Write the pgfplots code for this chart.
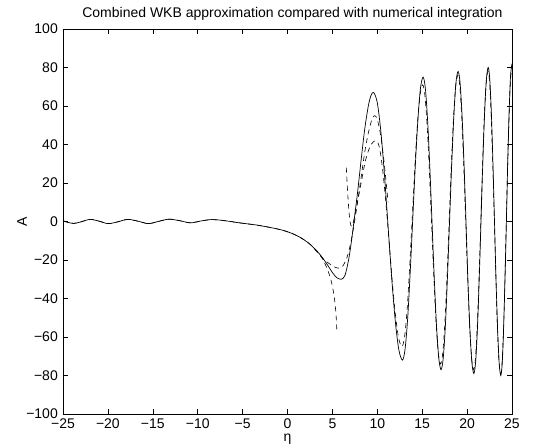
\documentclass[border=0pt]{standalone}
\usepackage{fontspec}
\setmainfont{Liberation Sans}
\usepackage{pgfplots}
\pgfplotsset{compat=1.18}
\begin{document}
\begin{tikzpicture}[x=1pt,y=1pt]
\path[use as bounding box] (-63,-32) rectangle (486,414);
\begin{axis}[
  at={(0,0)}, anchor=south west,
  scale only axis, width=449pt, height=385pt,
  xmin=-25, xmax=25, ymin=-100, ymax=100,
  xtick={-25,-20,...,25},
  xticklabels={−25,−20,−15,−10,−5,0,5,10,15,20,25},
  ytick={-100,-80,...,100},
  yticklabels={−100,−80,−60,−40,−20,0,20,40,60,80,100},
  tick align=inside, major tick length=5pt,
  every tick/.style={black, line width=0.4pt},
  axis line style={line width=0.5pt},
  tick label style={font=\fontsize{14}{16}\selectfont},
  xticklabel style={inner sep=5pt},
  yticklabel style={inner sep=5pt},
  /pgf/number format/assume math mode=true,
  title={Combined WKB approximation compared with numerical integration},
  title style={font=\fontsize{14}{16}\selectfont, at={(axis description cs:0.511,1.024)}, anchor=center, inner sep=0pt},
  xlabel={η},
  xlabel style={font=\fontsize{14}{16}\selectfont, at={(axis description cs:0.5,-0.066)}, anchor=center, inner sep=0pt},
  ylabel={A},
  ylabel style={font=\fontsize{14}{16}\selectfont, at={(axis description cs:-0.0913,0.5)}, anchor=center, inner sep=0pt},
  clip=true,
]
% numerical integration (solid)
\addplot[black, line width=0.7pt, smooth] coordinates {
(-25,0.4) (-24.5,-0.4) (-23.8,-1.0) (-23,-0.2) (-22,1.1) (-21,0.2) (-20,-1.1) (-19,-0.3) (-17.8,1.1) (-16.6,0.1) (-15.5,-1.1) (-14.4,0.0) (-13.2,1.2) (-12,0.4) (-10.8,-0.7) (-9.6,0.3) (-8.5,1.0) (-7.5,0.7) (-6.5,0.1) (-5.5,-0.6) (-4.5,-1.2) (-3.5,-1.8) (-2.5,-2.6) (-1.5,-3.5) (-0.5,-4.6) (0.5,-6.2) (1.5,-8.5) (2.5,-11.8) (3.5,-16.5) (4.3,-21.5) (5.0,-26.5) (5.5,-29.2) (6.0,-30.0) (6.4,-28) (6.8,-20) (7.1,-11) (7.4,0) (7.8,15) (8.2,32) (8.6,48) (9.0,60) (9.3,65.5) (9.6,67)
(10.0,61.7) (10.4,46.6) (10.8,24.1) (11.2,-2.5) (11.6,-29.1) (12.0,-51.6) (12.4,-66.7) (12.8,-72)
(13.09,-66.4) (13.38,-50.5) (13.66,-26.7) (13.95,1.5) (14.24,29.7) (14.53,53.5) (14.81,69.4) (15.1,75)
(15.35,69.2) (15.6,52.7) (15.85,28.1) (16.1,-1) (16.35,-30.1) (16.6,-54.7) (16.85,-71.2) (17.1,-77)
(17.34,-71.1) (17.58,-54.3) (17.81,-29.2) (18.05,0.5) (18.29,30.2) (18.53,55.3) (18.76,72.1) (19.0,78)
(19.22,72.0) (19.44,55.0) (19.66,29.6) (19.88,-0.5) (20.09,-30.6) (20.31,-56.0) (20.53,-73.0) (20.75,-79)
(20.95,-73.0) (21.15,-55.7) (21.35,-29.9) (21.55,0.5) (21.75,30.9) (21.95,56.7) (22.15,74.0) (22.35,80)
(22.525,73.9) (22.70,56.6) (22.875,30.6) (23.05,0) (23.225,-30.6) (23.40,-56.6) (23.575,-73.9) (23.75,-80)
(23.91,-73.8) (24.06,-56.3) (24.22,-30) (24.38,1) (24.53,32) (24.69,58.3) (24.84,75.8) (25.0,82)
};
% WKB, left of the turning point (dashed)
\addplot[black, line width=0.6pt, dash pattern=on 5pt off 4pt, smooth] coordinates {
(-25,0.4) (-24.5,-0.4) (-23.8,-1.0) (-23,-0.2) (-22,1.1) (-21,0.2) (-20,-1.1) (-19,-0.3) (-17.8,1.1) (-16.6,0.1) (-15.5,-1.1) (-14.4,0.0) (-13.2,1.2) (-12,0.4) (-10.8,-0.7) (-9.6,0.3) (-8.5,1.0) (-7.5,0.7) (-6.5,0.1) (-5.5,-0.6) (-4.5,-1.2) (-3.5,-1.8) (-2.5,-2.6) (-1.5,-3.5) (-0.5,-4.6) (0.5,-6.2) (1.5,-8.5) (2.5,-11.8) (3.5,-16.5) (4.0,-20.3) (4.5,-25.5) (4.9,-31.5) (5.2,-39) (5.4,-48) (5.5,-57)
};
% WKB, right of the turning point (dashed)
\addplot[black, line width=0.6pt, dash pattern=on 5pt off 4pt, smooth] coordinates {
(6.55,28) (6.7,15) (6.85,5) (7.0,-1) (7.15,-2.5) (7.35,0) (7.7,8) (8.2,20) (8.7,32) (9.3,40) (9.9,42)
(10.26,37.9) (10.61,26.3) (10.97,9.0) (11.33,-11.5) (11.68,-32) (12.04,-49.3) (12.39,-60.9) (12.75,-65)
(13.04,-59.8) (13.33,-45.1) (13.61,-23) (13.90,3) (14.19,29) (14.48,51.1) (14.76,65.8) (15.05,71)
(15.3,65.5) (15.55,49.8) (15.8,26.3) (16.05,-1.5) (16.3,-29.3) (16.55,-52.8) (16.8,-68.5) (17.05,-74)
(17.29,-68.3) (17.53,-52) (17.77,-27.7) (18.01,1) (18.25,29.7) (18.49,54) (18.73,70.3) (18.97,76)
(19.19,70.2) (19.41,53.6) (19.63,28.8) (19.85,-0.5) (20.07,-29.8) (20.29,-54.6) (20.51,-71.2) (20.73,-77)
(20.93,-71.1) (21.13,-54.3) (21.33,-29.2) (21.53,0.5) (21.73,30.2) (21.93,55.3) (22.13,72.1) (22.33,78)
(22.51,72) (22.68,55) (22.86,29.5) (23.04,-0.5) (23.21,-30.5) (23.39,-56) (23.56,-73) (23.74,-79)
(23.90,-73) (24.06,-55.7) (24.21,-29.9) (24.37,0.5) (24.53,30.9) (24.69,56.7) (24.84,74) (25.0,80)
};
% connection near the turning point (dashed)
\addplot[black, line width=0.6pt, dash pattern=on 5pt off 4pt, smooth] coordinates {
(3.0,-14.2) (4.0,-19.5) (5.0,-23) (5.6,-24.2) (6.1,-23.5) (6.6,-19) (7.0,-12) (7.4,-2) (7.8,10) (8.2,23) (8.6,36) (9.0,46) (9.4,53) (9.7,55) (10.0,53) (10.4,44) (10.8,29) (11.2,10)
};
\end{axis}
\end{tikzpicture}
\end{document}
